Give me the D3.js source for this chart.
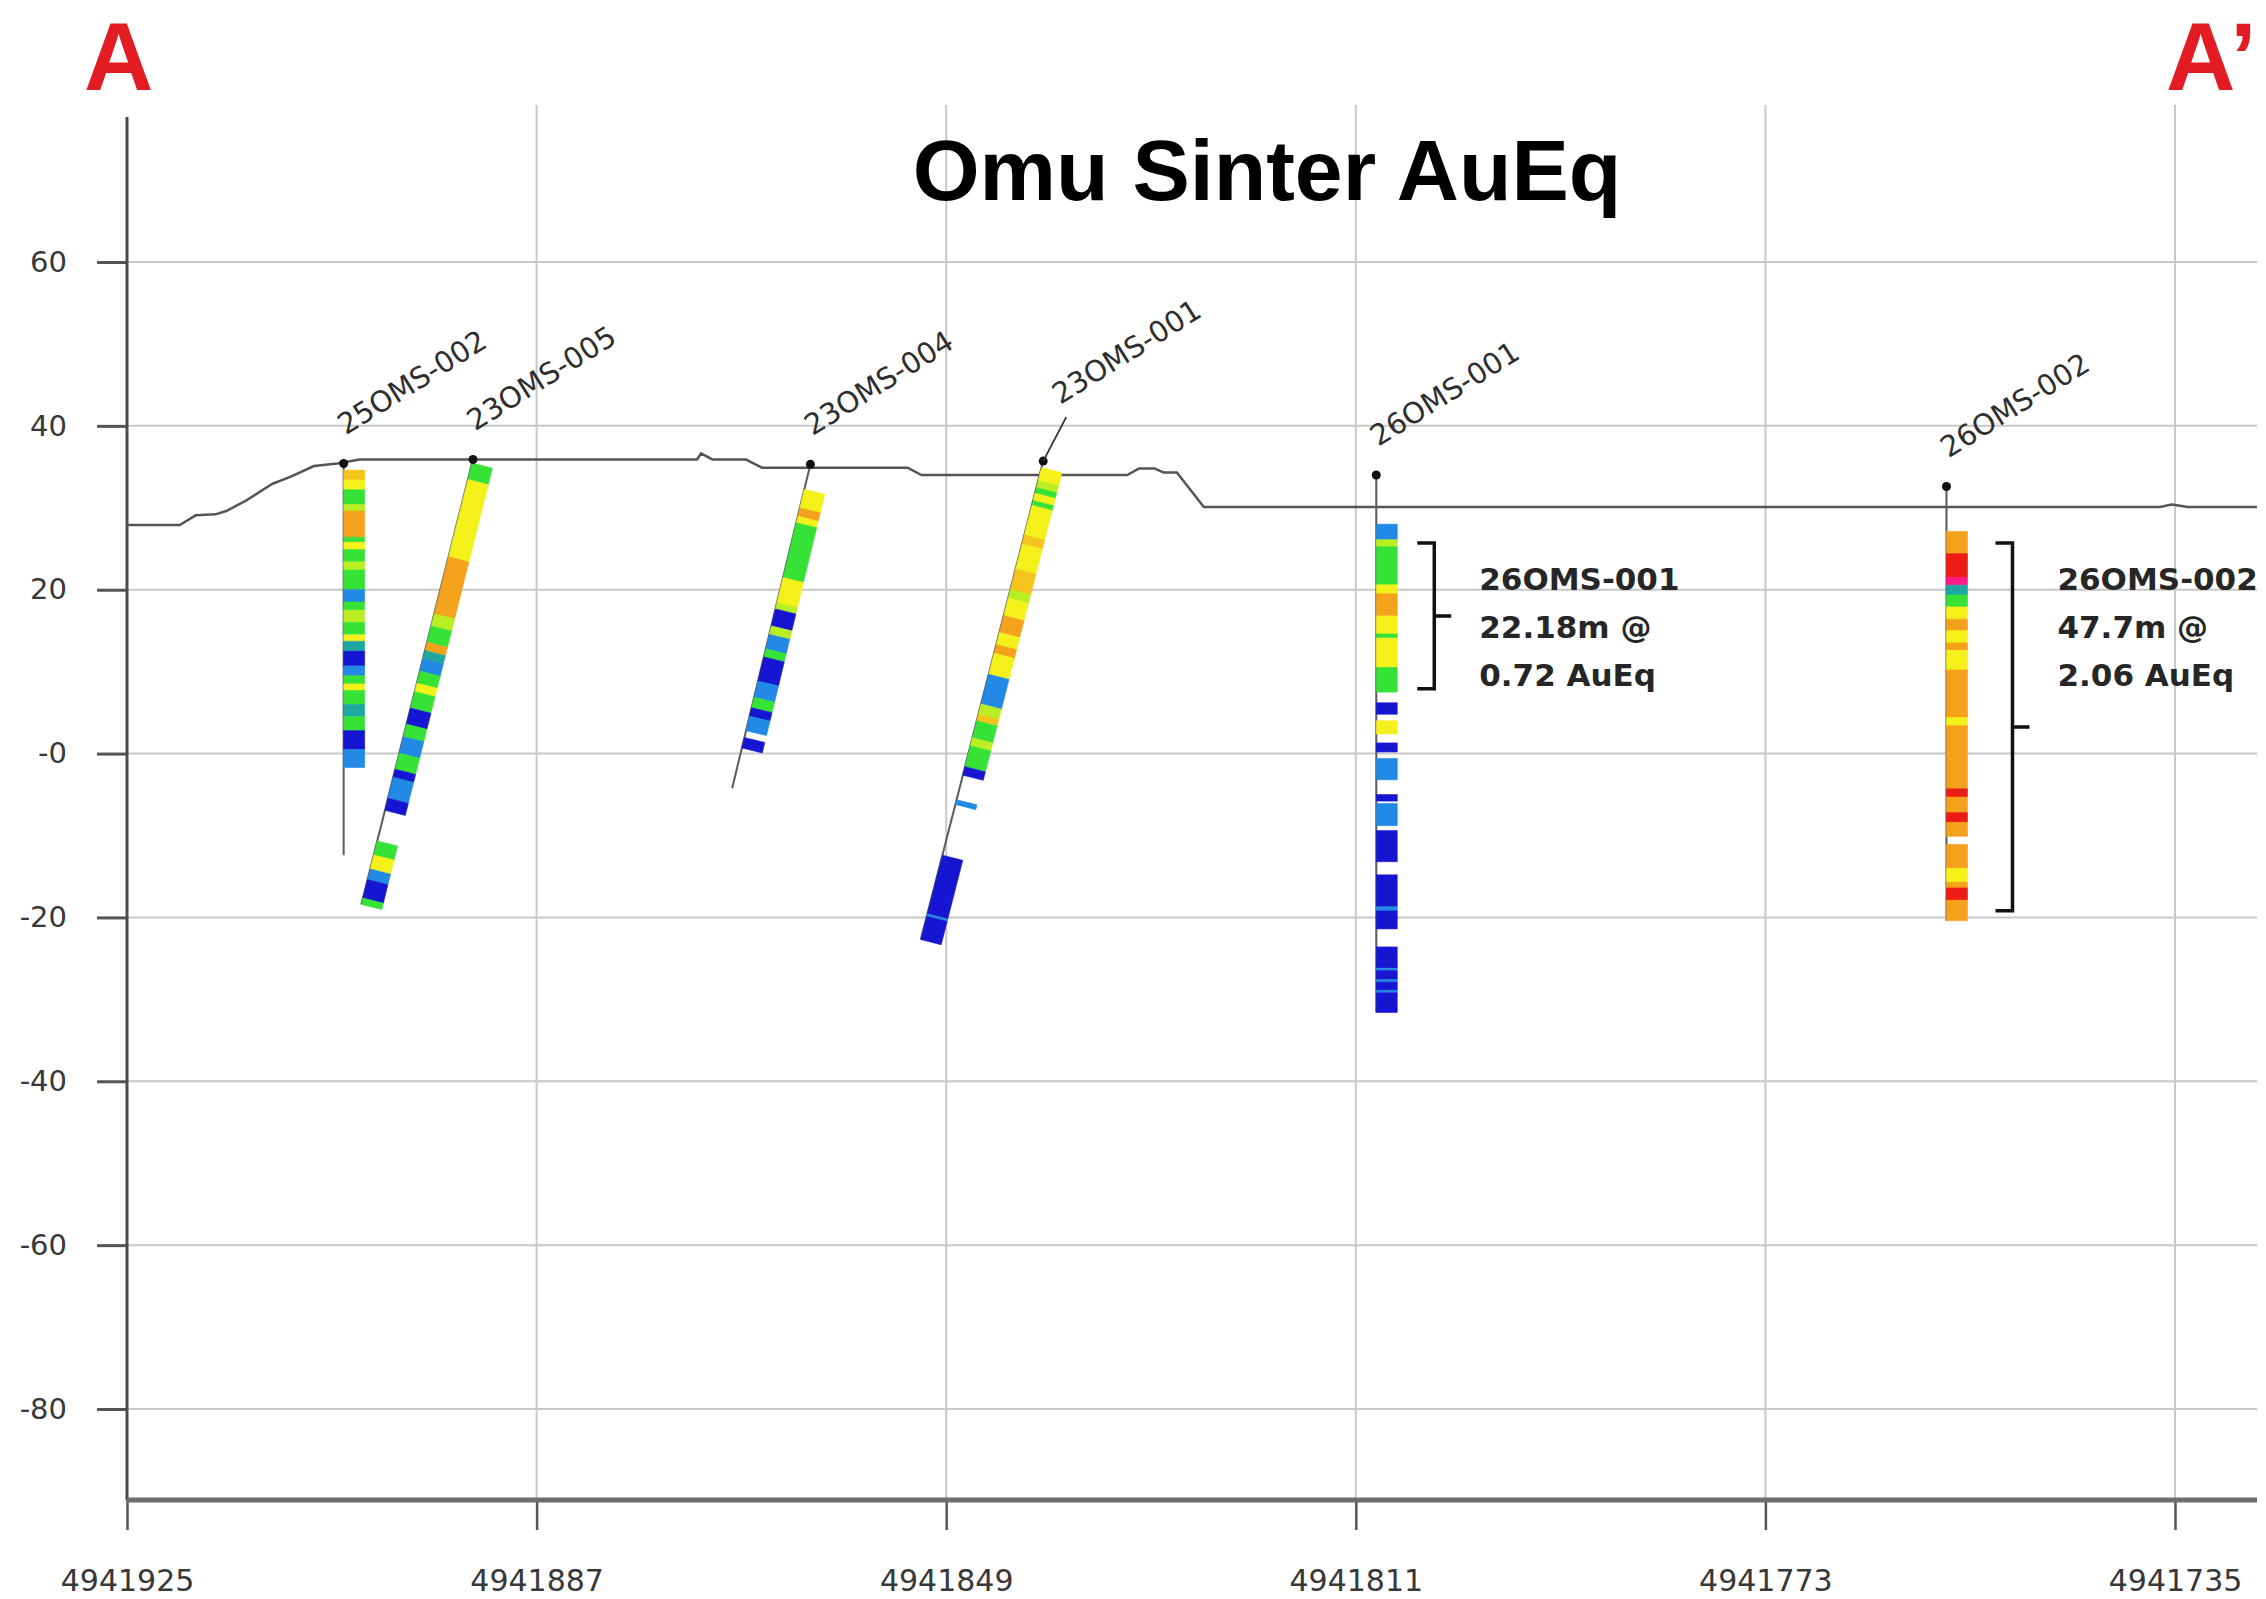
<!DOCTYPE html>
<html><head><meta charset="utf-8">
<script src="https://cdn.jsdelivr.net/npm/d3@7"></script>
<style>
html,body{margin:0;padding:0;background:#fff;}
svg{display:block;background:#fff;}
</style></head><body>
<svg id="chart" width="2266" height="1599"></svg>
<script>
// ---------------- DATA ----------------
const chartTitle = "Omu Sinter AuEq";
const sectionStart = "A";
const sectionEnd = "A\u2019";

const xTicks = [4941925, 4941887, 4941849, 4941811, 4941773, 4941735];
const xTickLabels = ["4941925", "4941887", "4941849", "4941811", "4941773", "4941735"];
const yTicks = [60, 40, 20, 0, -20, -40, -60, -80];
const yTickLabels = ["60", "40", "20", "-0", "-20", "-40", "-60", "-80"];

// topography profile (northing, elevation m)
const terrainNorthing = [4941925.0, 4941920.1, 4941918.6, 4941916.8, 4941915.8, 4941914.05, 4941911.55, 4941909.8,
  4941907.65, 4941905.5, 4941903.4, 4941872.1, 4941871.75, 4941870.7, 4941867.6, 4941866.1, 4941852.6, 4941851.3,
  4941832.2, 4941831.1, 4941829.7, 4941828.8, 4941827.6, 4941825.1, 4941736.4, 4941735.3, 4941733.8, 4941727.4];
const terrainElevation = [27.9, 27.9, 29.1, 29.2, 29.6, 30.8, 32.9, 33.8,
  35.1, 35.4, 35.9, 35.9, 36.65, 35.9, 35.9, 34.9, 34.9, 34.0,
  34.0, 34.8, 34.8, 34.3, 34.3, 30.1, 30.1, 30.4, 30.1, 30.1];

// drill holes
const holeNames = ["25OMS-002", "23OMS-005", "23OMS-004", "23OMS-001", "26OMS-001", "26OMS-002"];
const holeCollarN = [4941904.9, 4941892.9, 4941861.6, 4941840.0, 4941809.1, 4941756.2];
const holeCollarZ = [35.4, 35.9, 35.3, 35.7, 34.0, 32.6];
const holeDip = [90, 79.2, 79.6, 79.0, 90, 90];          // degrees, in section
const holeLength = [47.8, 55.3, 40.2, 59.5, 65.6, 53.0];  // m

// assay intervals: [from m, to m, AuEq g/t]
const assays25OMS002 = [[0.8,2.0,1.2],[2.0,3.2,0.7],[3.2,5.0,0.25],[5.0,5.8,0.4],[5.8,9.0,2],[9.0,9.6,0.25],
  [9.6,10.5,0.7],[10.5,12.0,0.25],[12.0,13.0,0.4],[13.0,15.4,0.25],[15.4,16.9,0.08],[16.9,17.9,0.25],
  [17.9,19.4,0.4],[19.4,20.9,0.25],[20.9,21.7,0.7],[21.7,22.9,0.15],[22.9,24.7,0.03],[24.7,25.9,0.08],
  [25.9,26.9,0.25],[26.9,27.7,0.7],[27.7,29.4,0.25],[29.4,30.9,0.15],[30.9,32.6,0.25],[32.6,34.9,0.03],
  [34.9,37.1,0.08]];
const assays23OMS005 = [[0.45,2.5,0.25],[2.5,12.1,0.7],[12.1,19.2,2],[19.2,20.7,0.4],[20.7,22.7,0.25],
  [22.7,23.75,2],[23.75,24.8,0.15],[24.8,26.3,0.08],[26.3,27.8,0.25],[27.8,28.85,0.7],[28.85,30.9,0.25],
  [30.9,32.9,0.03],[32.9,34.45,0.25],[34.45,36.5,0.08],[36.5,38.5,0.25],[38.5,39.5,0.03],[39.5,42.1,0.08],
  [42.1,43.6,0.03],[47.4,49.15,0.25],[49.15,50.9,0.7],[50.9,52.2,0.08],[52.2,54.5,0.03],[54.5,55.3,0.25]];
const assays23OMS004 = [[3.1,5.4,0.7],[5.4,6.45,2],[6.45,7.25,0.7],[7.25,14.05,0.25],[14.05,17.2,0.7],
  [17.2,17.95,0.4],[17.95,20.05,0.03],[20.05,21.1,0.4],[21.1,22.9,0.08],[22.9,23.9,0.25],[23.9,26.9,0.03],
  [26.9,28.9,0.08],[28.9,30.2,0.25],[30.2,31.25,0.03],[31.25,33.05,0.08],[33.9,35.2,0.03]];
const assays23OMS001 = [[0.8,2.4,0.7],[2.4,3.3,0.4],[3.3,4.0,0.25],[4.0,4.9,0.7],[4.9,5.5,0.25],[5.5,9.2,0.7],
  [9.2,10.3,1.2],[10.3,13.4,0.7],[13.4,16.0,1.2],[16.0,17.05,0.4],[17.05,19.2,0.7],[19.2,21.3,1.5],
  [21.3,22.8,0.7],[22.8,23.9,1.5],[23.9,26.5,0.7],[26.5,30.2,0.08],[30.2,31.5,0.4],[31.5,32.3,1.2],
  [32.3,34.4,0.25],[34.4,35.4,0.4],[35.4,38.0,0.25],[38.0,39.05,0.03],[42.1,42.7,0.08],[49.0,56.3,0.03],
  [56.3,56.6,0.08],[56.6,59.5,0.03]];
const assays26OMS001 = [[6.0,7.9,0.08],[7.9,8.75,0.4],[8.75,13.4,0.25],[13.4,14.5,0.7],[14.5,17.2,2],
  [17.2,19.4,0.7],[19.4,19.9,0.25],[19.9,23.5,0.7],[23.5,26.5,0.25],[27.8,29.2,0.03],[30.0,31.6,0.7],
  [32.7,33.8,0.03],[34.6,37.2,0.08],[39.0,39.8,0.03],[40.1,42.8,0.08],[43.4,47.2,0.03],[48.8,52.7,0.03],
  [52.7,53.2,0.08],[53.2,55.4,0.03],[57.6,60.2,0.03],[60.2,60.5,0.08],[60.5,61.6,0.03],[61.6,61.9,0.08],
  [61.9,62.9,0.03],[62.9,63.2,0.08],[63.2,65.6,0.03]];
const assays26OMS002 = [[5.5,8.2,2],[8.2,11.1,4],[11.1,12.05,6],[12.05,13.25,0.15],[13.25,14.7,0.25],
  [14.7,16.2,0.7],[16.2,17.6,2],[17.6,19.1,0.7],[19.1,20.0,2],[20.0,22.4,0.7],[22.4,28.2,2],[28.2,29.2,0.7],
  [29.2,30.2,2],[30.2,36.9,2],[36.9,37.9,4],[37.9,39.8,2],[39.8,41.0,4],[41.0,42.7,2],[43.7,46.6,2],
  [46.6,48.3,0.7],[48.3,49.0,2],[49.0,50.5,4],[50.5,53.0,2]];
const holeAssays = [assays25OMS002, assays23OMS005, assays23OMS004, assays23OMS001, assays26OMS001, assays26OMS002];

// grade colour classes (AuEq g/t)
const gradeThresholds = [0.05, 0.1, 0.2, 0.3, 0.5, 1.0, 1.4, 3.0, 5.0];
const gradeColors = ["#1616d2", "#2289e4", "#1fa8a2", "#36e236", "#b8ee22", "#f4f01a", "#f5c41c", "#f4a21c", "#ec1c14", "#ff1a8c"];

// significant intercepts
const interceptHoles = ["26OMS-001", "26OMS-002"];
const interceptTopZ = [25.7, 25.7];
const interceptBottomZ = [7.9, -19.2];
const interceptText = [["26OMS-001", "22.18m @", "0.72 AuEq"], ["26OMS-002", "47.7m @", "2.06 AuEq"]];

// ---------------- DRAWING ----------------
const svg = d3.select("#chart");
const x = d3.scaleLinear().domain([4941925, 4941735]).range([127, 2175]);
const y = d3.scaleLinear().domain([60, -80]).range([262, 1409]);
const color = d3.scaleThreshold().domain(gradeThresholds).range(gradeColors);

const plotLeft = x(4941925), plotRight = 2257, plotBottom = 1500, axisTop = 117, gridTop = 105;
const FONT = "'DejaVu Sans', Verdana, sans-serif";

// grid
const grid = svg.append("g");
grid.selectAll("line.hg").data(yTicks).join("line").attr("class", "hg")
  .attr("x1", plotLeft).attr("x2", plotRight)
  .attr("y1", d => y(d)).attr("y2", d => y(d))
  .attr("stroke", "#c8c8c8").attr("stroke-width", 2);
grid.selectAll("line.vg").data(xTicks.slice(1)).join("line").attr("class", "vg")
  .attr("x1", d => x(d)).attr("x2", d => x(d))
  .attr("y1", gridTop).attr("y2", plotBottom)
  .attr("stroke", "#c8c8c8").attr("stroke-width", 2);

// y axis
const ya = svg.append("g").attr("transform", `translate(${plotLeft},0)`)
  .call(d3.axisLeft(y).tickValues(yTicks).tickFormat((d, i) => yTickLabels[i]).tickSize(30).tickPadding(30));
ya.select(".domain").remove();
ya.selectAll(".tick line").attr("stroke", "#555").attr("stroke-width", 3);
ya.selectAll(".tick text").attr("font-family", FONT).attr("font-size", 29).attr("fill", "#383838");
svg.append("line").attr("x1", plotLeft).attr("x2", plotLeft).attr("y1", axisTop).attr("y2", plotBottom)
  .attr("stroke", "#4a4a4a").attr("stroke-width", 3);

// x axis
const xa = svg.append("g").attr("transform", `translate(0,${plotBottom})`)
  .call(d3.axisBottom(x).tickValues(xTicks).tickFormat((d, i) => xTickLabels[i]).tickSize(30).tickPadding(40));
xa.select(".domain").remove();
xa.selectAll(".tick line").attr("stroke", "#555").attr("stroke-width", 2.5);
xa.selectAll(".tick text").attr("font-family", FONT).attr("font-size", 30).attr("fill", "#383838");
svg.append("line").attr("x1", plotLeft).attr("x2", plotRight).attr("y1", plotBottom).attr("y2", plotBottom)
  .attr("stroke", "#6e6e6e").attr("stroke-width", 5);

// title and section letters
svg.append("text").attr("x", 1267).attr("y", 200).attr("text-anchor", "middle")
  .attr("font-family", "'Liberation Sans', Arial, sans-serif").attr("font-weight", "bold")
  .attr("font-size", 86).attr("fill", "#000").text(chartTitle);
svg.append("text").attr("x", 84).attr("y", 90)
  .attr("font-family", "'Liberation Sans', Arial, sans-serif").attr("font-weight", "bold")
  .attr("font-size", 96).attr("fill", "#e31b23").text(sectionStart);
svg.append("text").attr("x", 2166).attr("y", 90)
  .attr("font-family", "'Liberation Sans', Arial, sans-serif").attr("font-weight", "bold")
  .attr("font-size", 96).attr("fill", "#e31b23").text(sectionEnd);

// terrain
const terrain = terrainNorthing.map((n, i) => [n, terrainElevation[i]]);
svg.append("path").datum(terrain)
  .attr("d", d3.line().x(d => x(d[0])).y(d => y(d[1])))
  .attr("fill", "none").attr("stroke", "#555").attr("stroke-width", 2.5).attr("stroke-linejoin", "round");

// drill hole geometry
function holePt(i, depth) {
  const a = holeDip[i] * Math.PI / 180;
  return [x(holeCollarN[i] + depth * Math.cos(a)), y(holeCollarZ[i] - depth * Math.sin(a))];
}
const BAR_W = 21;
const holes = holeNames.map((name, i) => {
  const p0 = holePt(i, 0), p1 = holePt(i, holeLength[i]);
  const len = Math.hypot(p1[0] - p0[0], p1[1] - p0[1]);
  const u = [(p1[0] - p0[0]) / len, (p1[1] - p0[1]) / len];
  const nrm = [u[1], -u[0]];
  return {name, i, p0, p1, u, nrm};
});

const holeG = svg.append("g");
// traces
holeG.selectAll("line.trace").data(holes).join("line").attr("class", "trace")
  .attr("x1", d => d.p0[0]).attr("y1", d => d.p0[1]).attr("x2", d => d.p1[0]).attr("y2", d => d.p1[1])
  .attr("stroke", "#5a5a5a").attr("stroke-width", 2);

// assay bars
const segs = [];
holes.forEach(h => {
  holeAssays[h.i].forEach(a => {
    const s = holePt(h.i, a[0]), e = holePt(h.i, a[1]);
    const pts = [s, e, [e[0] + h.nrm[0] * BAR_W, e[1] + h.nrm[1] * BAR_W], [s[0] + h.nrm[0] * BAR_W, s[1] + h.nrm[1] * BAR_W]];
    segs.push({pts, grade: a[2]});
  });
});
holeG.selectAll("polygon.assay").data(segs).join("polygon").attr("class", "assay")
  .attr("points", d => d.pts.map(p => p.join(",")).join(" "))
  .attr("fill", d => color(d.grade))
  .attr("stroke", d => color(d.grade)).attr("stroke-width", 0.6);

// collars
holeG.selectAll("circle.collar").data(holes).join("circle").attr("class", "collar")
  .attr("cx", d => d.p0[0]).attr("cy", d => d.p0[1]).attr("r", 4.5).attr("fill", "#111");

// hole labels
const leaderHole = "23OMS-001";
holes.forEach(h => {
  const lead = h.name === leaderHole;
  const lx = h.p0[0] + (lead ? 17 : 2), ly = h.p0[1] + (lead ? -56 : -28);
  if (lead) {
    holeG.append("line").attr("x1", h.p0[0]).attr("y1", h.p0[1])
      .attr("x2", h.p0[0] + 23).attr("y2", h.p0[1] - 44)
      .attr("stroke", "#333").attr("stroke-width", 1.8);
  }
  holeG.append("text").attr("transform", `translate(${lx},${ly}) rotate(-32)`)
    .attr("font-family", FONT).attr("font-size", 29).attr("fill", "#2e2e2e").text(h.name);
});

// intercept brackets and text
const bracketOffset = [58, 66];
interceptHoles.forEach((hn, k) => {
  const h = holes.find(d => d.name === hn);
  const bx = h.p0[0] + bracketOffset[k];
  const yt = y(interceptTopZ[k]), yb = y(interceptBottomZ[k]), ym = (yt + yb) / 2;
  svg.append("path")
    .attr("d", `M${bx - 17},${yt} H${bx} V${yb} H${bx - 17} M${bx},${ym} H${bx + 17}`)
    .attr("fill", "none").attr("stroke", "#111").attr("stroke-width", 3.5);
  const t = svg.append("text").attr("font-family", FONT).attr("font-weight", "bold")
    .attr("font-size", 31).attr("fill", "#262626");
  interceptText[k].forEach((line, j) => {
    t.append("tspan").attr("x", bx + 45).attr("y", yt + 47 + j * 48).text(line);
  });
});
</script>
</body></html>
